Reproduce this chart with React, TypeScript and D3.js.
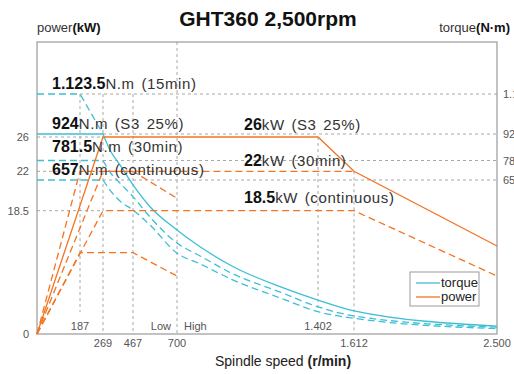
import * as d3 from 'd3';

// speed breakpoints (r/min) used as ticks, schematic axis
const rpmTicks = [0, 187, 269, 467, 700, 1402, 1612, 2500];
const rpmLabels = ['', '187', '269', '467', '700', '1.402', '1.612', '2.500'];
const powerTicks = [0, 18.5, 22, 26];
const powerTickLabels = ['0', '18.5', '22', '26'];
const torqueTicks = [0, 657, 781.5, 924, 1123.5];
const torqueTickLabels = ['', '657', '781.5', '924', '1.123.5'];

// torque curves (N·m)
const curveRpm = [269, 315, 381, 467, 557, 700, 815, 980, 1213, 1402, 1612, 2500];
const torqueS3 = [924, 838, 753, 636, 543, 444, 372, 287, 202, 145, 99, 34];
const torque30 = [781.5, 708, 644, 586, 499, 388, 333, 256, 179, 116, 77, 29];
const torqueCont = [657, 614, 567, 529, 465, 345, 299, 230, 154, 95, 67, 23];
const torque15Rpm = [0, 187, 269];
const torque15 = [1123.5, 1123.5, 924];

// power lines (kW)
const powerS3Rpm = [0, 269, 1402, 1612, 2500];
const powerS3 = [0, 26, 26, 22, 13.2];
const power30Rpm = [0, 269, 1612];
const power30 = [0, 22, 22];
const powerContRpm = [0, 269, 1612, 2500];
const powerCont = [0, 18.5, 18.5, 8.7];
const powerLowRpm = [0, 187, 467, 700];
const powerLow30 = [0, 22, 22, 19.6];
const powerLowCont = [0, 12.2, 12.2, 8.7];

const CYAN = '#3dbfd6';
const ORANGE = '#f37423';
const GRID = '#a8a8a8';
const FONT = '"Liberation Sans", Arial, sans-serif';

export default function App() {
  const W = 514;
  const H = 374;
  const left = 37, right = 497, top = 42, bottom = 334;

  const x = d3.scaleLinear().domain(rpmTicks).range([left, 80, 103, 133, 177, 318, 354, right]);
  const yP = d3.scaleLinear().domain(powerTicks).range([bottom, 210.7, 171.3, 137]);
  const yT = d3.scaleLinear().domain(torqueTicks).range([bottom, 180, 160.5, 134, 94]);

  const straight = d3.line<[number, number]>().x(d => d[0]).y(d => d[1]);
  const smooth = d3.line<[number, number]>().x(d => d[0]).y(d => d[1]).curve(d3.curveMonotoneX);

  const pts = (rpm: number[], vals: number[], y: (v: number) => number) =>
    rpm.map((r, i) => [x(r), y(vals[i])] as [number, number]);

  const torqueCurves = [
    { vals: torqueS3, dash: null },
    { vals: torque30, dash: '7,4' },
    { vals: torqueCont, dash: '7,4' },
  ];

  const powerLines = [
    { rpm: powerS3Rpm, vals: powerS3, dash: null },
    { rpm: power30Rpm, vals: power30, dash: '7,4' },
    { rpm: powerContRpm, vals: powerCont, dash: '7,4' },
    { rpm: powerLowRpm, vals: powerLow30, dash: '7,4' },
    { rpm: powerLowRpm, vals: powerLowCont, dash: '7,4' },
  ];

  // dashed gray guides
  const hGuides = [
    { x1: x(187), x2: right, y: yT(1123.5) },
    { x1: x(269), x2: right, y: yT(924) },
    { x1: x(269), x2: right, y: yT(781.5) },
    { x1: x(269), x2: right, y: yT(657) },
    { x1: left, x2: x(269), y: yP(26) },
    { x1: left, x2: x(187), y: yP(22) },
    { x1: left, x2: x(269), y: yP(18.5) },
  ];
  const vGuides = [
    { x: x(187), y1: yT(1123.5), y2: 312 },
    { x: x(269), y1: yT(1123.5), y2: bottom },
    { x: x(467), y1: yT(1123.5), y2: bottom },
    { x: x(700), y1: top, y2: bottom },
    { x: x(1402), y1: yP(26), y2: 312 },
    { x: x(1612), y1: yP(22), y2: bottom },
  ];

  const tickStyle = { fontFamily: FONT, fontSize: 11, fill: '#555' };
  const numStyle = { fontWeight: 700, fontSize: 16, fill: '#111' } as const;
  const unitStyle = { fontSize: 15, fill: '#333', letterSpacing: 0.6, wordSpacing: 2 } as const;

  return (
    <svg width={W} height={H} style={{ position: 'absolute', left: 0, top: 0, background: '#fff' }}>
      <text x={268} y={26} textAnchor="middle" fontFamily={FONT} fontWeight={700} fontSize={21} fill="#111">
        GHT360 2,500rpm
      </text>
      <text x={37} y={32} fontFamily={FONT} fontSize={13} fill="#333">
        power<tspan fontWeight={700} fill="#111">(kW)</tspan>
      </text>
      <text x={510} y={32} textAnchor="end" fontFamily={FONT} fontSize={13} fill="#333">
        torque<tspan fontWeight={700} fill="#111">(N·m)</tspan>
      </text>

      {hGuides.map((g, i) => (
        <line key={'h' + i} x1={g.x1} x2={g.x2} y1={g.y} y2={g.y} stroke={GRID} strokeDasharray="3,3" />
      ))}
      {vGuides.map((g, i) => (
        <line key={'v' + i} x1={g.x} x2={g.x} y1={g.y1} y2={g.y2} stroke={GRID} strokeDasharray="3,3" />
      ))}

      <rect x={left} y={top} width={right - left} height={bottom - top} fill="none" stroke="#9a9a9a" strokeWidth={1.2} />

      {/* torque: flat parts and falling curves */}
      <path d={straight(pts(torque15Rpm, torque15, yT)) || ''} fill="none" stroke={CYAN} strokeWidth={1.3} strokeDasharray="7,4" />
      {torqueCurves.map((c, i) => (
        <g key={'t' + i}>
          <path
            d={straight([[x(0), yT(c.vals[0])], [x(curveRpm[0]), yT(c.vals[0])]]) || ''}
            fill="none" stroke={CYAN} strokeWidth={1.3} strokeDasharray={c.dash || undefined}
          />
          <path
            d={smooth(pts(curveRpm, c.vals, yT)) || ''}
            fill="none" stroke={CYAN} strokeWidth={1.3} strokeDasharray={c.dash || undefined}
          />
        </g>
      ))}

      {powerLines.map((p, i) => (
        <path
          key={'p' + i}
          d={straight(pts(p.rpm, p.vals, yP)) || ''}
          fill="none" stroke={ORANGE} strokeWidth={1.3} strokeDasharray={p.dash || undefined}
        />
      ))}

      {/* left (power) ticks */}
      {powerTicks.map((v, i) => (
        <text key={'pl' + i} x={29} y={yP(v) + 4} textAnchor="end" {...tickStyle}>{powerTickLabels[i]}</text>
      ))}
      {/* right (torque) ticks, cut at the edge as in the original */}
      {torqueTicks.map((v, i) => (
        <text key={'tl' + i} x={503} y={yT(v) + 4} {...tickStyle}>{torqueTickLabels[i]}</text>
      ))}
      {/* x ticks */}
      {rpmTicks.map((r, i) => {
        const inside = r === 187 || r === 1402;
        return (
          <text key={'x' + i} x={x(r)} y={inside ? 330 : 347} textAnchor="middle" {...tickStyle}>{rpmLabels[i]}</text>
        );
      })}
      <text x={x(700) - 6} y={330} textAnchor="end" {...tickStyle}>Low</text>
      <text x={x(700) + 7} y={330} {...tickStyle}>High</text>

      <text x={283} y={366} textAnchor="middle" fontFamily={FONT} fontSize={14} fill="#222">
        Spindle speed <tspan fontWeight={700}>(r/min)</tspan>
      </text>

      {/* annotations */}
      <g fontFamily={FONT}>
        <text x={52} y={89}><tspan {...numStyle}>1.123.5</tspan><tspan {...unitStyle}>N.m (15min)</tspan></text>
        <text x={52} y={128.5}><tspan {...numStyle}>924</tspan><tspan {...unitStyle}>N.m (S3 25%)</tspan></text>
        <text x={52} y={152}><tspan {...numStyle}>781.5</tspan><tspan {...unitStyle}>N.m (30min)</tspan></text>
        <text x={52} y={175}><tspan {...numStyle}>657</tspan><tspan {...unitStyle}>N.m (continuous)</tspan></text>
        <text x={244} y={130}><tspan {...numStyle}>26</tspan><tspan {...unitStyle}>kW (S3 25%)</tspan></text>
        <text x={244} y={166}><tspan {...numStyle}>22</tspan><tspan {...unitStyle}>kW (30min)</tspan></text>
        <text x={244} y={202.5}><tspan {...numStyle}>18.5</tspan><tspan {...unitStyle}>kW (continuous)</tspan></text>
      </g>

      {/* legend */}
      <g>
        <rect x={410} y={272} width={69} height={34} fill="#fff" stroke="#9a9a9a" />
        <line x1={416} x2={440} y1={283} y2={283} stroke={CYAN} strokeWidth={1.3} />
        <text x={441} y={287} fontFamily={FONT} fontSize={13} fill="#222">torque</text>
        <line x1={416} x2={440} y1={297} y2={297} stroke={ORANGE} strokeWidth={1.3} />
        <text x={441} y={301} fontFamily={FONT} fontSize={13} fill="#222">power</text>
      </g>
    </svg>
  );
}
